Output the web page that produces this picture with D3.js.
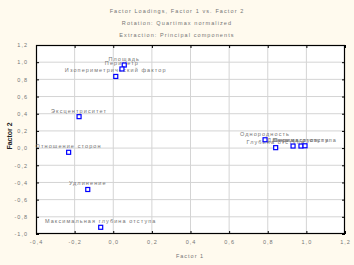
<!DOCTYPE html>
<html><head><meta charset="utf-8">
<script src="https://cdn.jsdelivr.net/npm/d3@7"></script>
<style>
html,body{margin:0;padding:0;background:#fffaee;}
svg{display:block;}
text{font-family:"Liberation Sans",Arial,sans-serif;}
</style></head>
<body>
<script>
const titleLines = ["Factor Loadings, Factor 1 vs. Factor 2","Rotation: Quartimax normalized","Extraction: Principal components"];
const xLabel = "Factor 1";
const yLabel = "Factor 2";
const varNames = ["Площадь","Периметр","Изопериметрический фактор","Эксцентриситет","Отношение сторон","Удлинение","Максимальная глубина отступа","Однородность","Глубина отступа","Длина отступа","Ширина отступа","Периметр отступа"];
const factor1 = [0.057,0.045,0.013,-0.177,-0.231,-0.132,-0.065,0.786,0.841,0.931,0.972,0.993];
const factor2 = [0.967,0.921,0.834,0.366,-0.049,-0.482,-0.922,0.097,0.005,0.024,0.024,0.027];
const xTicks = [-0.4,-0.2,0,0.2,0.4,0.6,0.8,1.0,1.2];
const yTicks = [-1.0,-0.8,-0.6,-0.4,-0.2,0,0.2,0.4,0.6,0.8,1.0,1.2];

const W=354,H=265;
const L=36,R=345,T=45,B=234;
const TXT="#747474";
const svg=d3.select("body").append("svg").attr("width",W).attr("height",H);
svg.append("rect").attr("width",W).attr("height",H).attr("fill","#fffaee");
const x=d3.scaleLinear().domain([-0.4,1.2]).range([L,R]);
const y=d3.scaleLinear().domain([-1.0,1.2]).range([B,T]);
const fmt=d=>{const s=d3.format(".1f")(Math.abs(d)<1e-9?0:d);return s.replace(".",",").replace("−","-");};

svg.append("rect").attr("x",L).attr("y",T).attr("width",R-L).attr("height",B-T).attr("fill","#fff");

// grid
const g=svg.append("g");
g.selectAll(".vg").data(xTicks.slice(1,-1)).enter().append("line")
 .attr("x1",d=>x(d)).attr("x2",d=>x(d)).attr("y1",T).attr("y2",B)
 .attr("stroke","#d4d4d4").attr("stroke-width",1);
g.selectAll(".hg").data(yTicks.slice(1,-1)).enter().append("line")
 .attr("y1",d=>y(d)).attr("y2",d=>y(d)).attr("x1",L).attr("x2",R)
 .attr("stroke","#d4d4d4").attr("stroke-width",1);

// axes with inward ticks
function styleAxis(sel){sel.select(".domain").remove();sel.selectAll("line").attr("stroke","#000");sel.selectAll("text").attr("fill",TXT).style("font-size","5.5px").style("letter-spacing","1px");}
svg.append("g").attr("transform",`translate(0,${B})`).call(d3.axisBottom(x).tickValues(xTicks).tickSize(-3).tickPadding(6).tickFormat(fmt)).call(styleAxis);
svg.append("g").attr("transform",`translate(0,${T})`).call(d3.axisTop(x).tickValues(xTicks).tickSize(-3).tickFormat("")).call(styleAxis);
svg.append("g").attr("transform",`translate(${L},0)`).call(d3.axisLeft(y).tickValues(yTicks).tickSize(-3).tickPadding(8).tickFormat(fmt)).call(styleAxis);
svg.append("g").attr("transform",`translate(${R},0)`).call(d3.axisRight(y).tickValues(yTicks).tickSize(-3).tickFormat("")).call(styleAxis);

svg.append("rect").attr("x",L+0.5).attr("y",T+0.5).attr("width",R-L-1).attr("height",B-T-1)
 .attr("fill","none").attr("stroke","#000").attr("stroke-width",1.2);

// titles
svg.selectAll(".title").data(titleLines).enter().append("text")
 .attr("x",177).attr("y",(d,i)=>[13,25,37][i]).attr("text-anchor","middle")
 .attr("fill",TXT).style("font-size","5.5px").style("letter-spacing","1.1px").text(d=>d);

svg.append("text").attr("x",190).attr("y",258).attr("text-anchor","middle").attr("fill",TXT)
 .style("font-size","5.5px").style("letter-spacing","1px").text(xLabel);
svg.append("text").attr("transform","translate(12,136) rotate(-90)").attr("text-anchor","middle").attr("fill","#222")
 .style("font-size","7px").style("font-weight","bold").text(yLabel);

// points
const data=varNames.map((n,i)=>({n,a:factor1[i],b:factor2[i]}));
svg.selectAll(".lbl").data(data).enter().append("text")
 .attr("x",d=>x(d.a)).attr("y",d=>y(d.b)-4).attr("text-anchor","middle")
 .attr("fill",TXT).style("font-size","5.5px").style("letter-spacing","1.1px").text(d=>d.n);
svg.selectAll(".pt").data(data).enter().append("rect")
 .attr("x",d=>x(d.a)-2).attr("y",d=>y(d.b)-2).attr("width",4).attr("height",4)
 .attr("fill","#fff").attr("stroke","#0000ff").attr("stroke-width",1.2);
</script>
</body></html>
